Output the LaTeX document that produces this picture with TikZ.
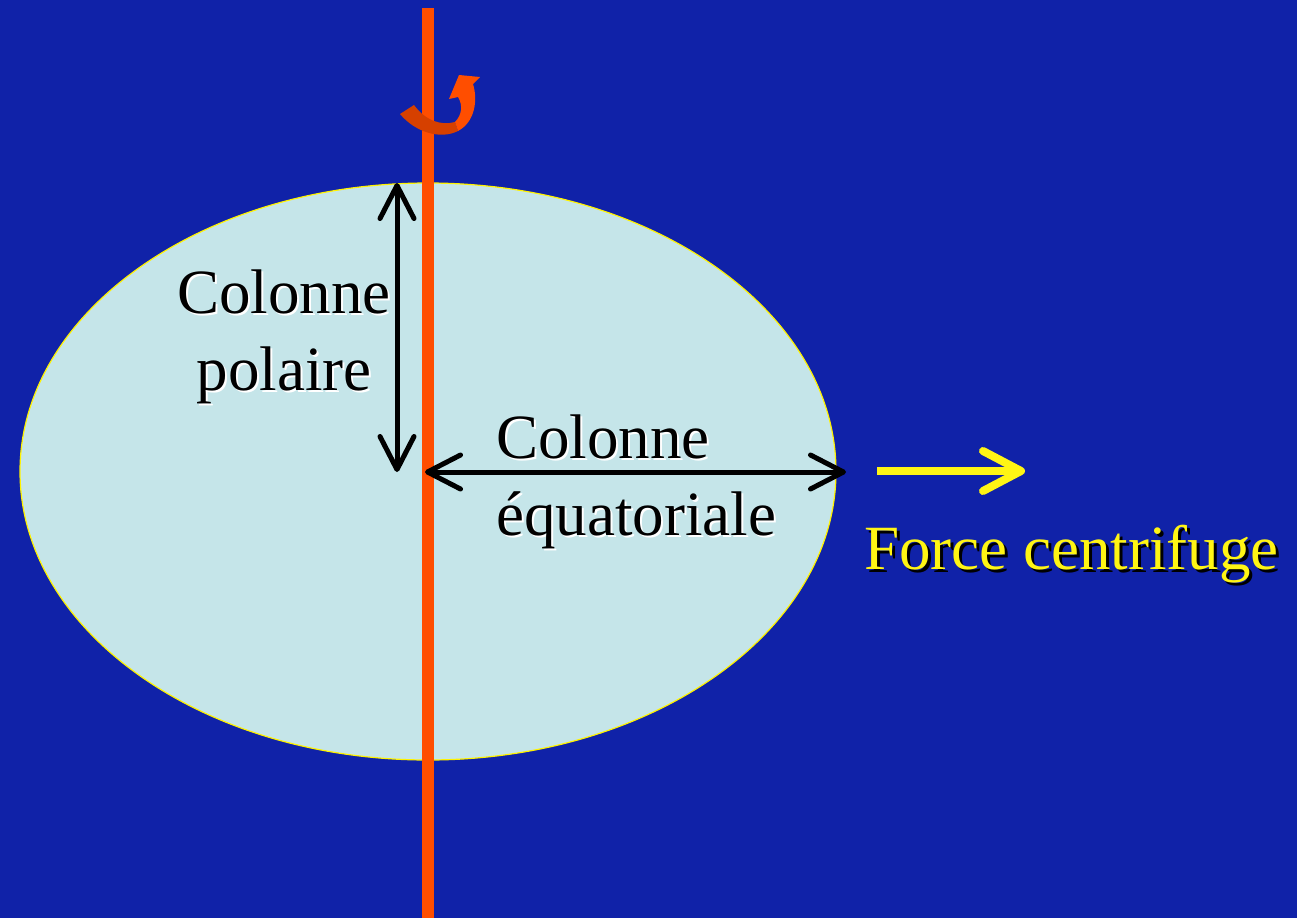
\documentclass[tikz,border=0pt]{standalone}
\usepackage{fontspec}
\setmainfont{Liberation Serif}
\usetikzlibrary{arrows.meta}
\definecolor{bgblue}{RGB}{16,34,168}
\definecolor{ellfill}{RGB}{197,229,233}
\definecolor{axisorange}{RGB}{255,78,0}
\definecolor{darkorange}{RGB}{214,64,0}
\definecolor{yel}{RGB}{255,245,20}
\tikzset{
  lbl/.style={font=\fontsize{63}{77}\selectfont, inner sep=0pt},
  dimarrow/.style={line width=5pt, {Straight Barb[length=33pt,width=34pt,line cap=round,line join=round]}-{Straight Barb[length=33pt,width=34pt,line cap=round,line join=round]}},
  forcearrow/.style={line width=8pt, yel, -{Straight Barb[length=38pt,width=40pt,line cap=round,line join=round]}}
}
\begin{document}
\begin{tikzpicture}[x=1pt,y=-1pt]
\useasboundingbox (0,0) rectangle (1297,918);
\fill[bgblue] (0,0) rectangle (1297,918);
% ellipse
\draw[yellow, line width=1.2pt, fill=ellfill] (428,471.5) ellipse [x radius=408, y radius=288.5];
% axis
\coordinate (axtop) at (428,8);
\coordinate (axbot) at (428,918);
\draw[axisorange, line width=12pt] (axtop) -- (axbot);
% rotation arrow
\fill[darkorange] (400,114) -- (414,105) .. controls (425,120) and (440,126) .. (455,122) -- (458,131) .. controls (440,140) and (415,132) .. cycle;
\fill[axisorange] (455,122) .. controls (462,115) and (463,105) .. (458,97) -- (449,99) -- (459,75) -- (480,77) -- (473,84) .. controls (478,100) and (475,122) .. (458,131) -- cycle;
% dimension arrows
\coordinate (ptop) at (397,183);
\coordinate (pbot) at (397,472);
\coordinate (eleft) at (425,472);
\coordinate (eright) at (846,472);
\draw[dimarrow] (ptop) -- (pbot);
\draw[dimarrow] (eleft) -- (eright);
% force arrow
\coordinate (fstart) at (877,471);
\coordinate (fend) at (1025,471);
\draw[forcearrow, line cap=butt] (fstart) -- (fend);
% labels
\node[lbl, white, align=center] at (286,339) {Colonne\\polaire};
\node[lbl, black, align=center] (polaire) at (284,337) {Colonne\\polaire};
\node[lbl, white, align=left, anchor=west] at (498,484) {Colonne\\équatoriale};
\node[lbl, black, align=left, anchor=west] (equat) at (496,482) {Colonne\\équatoriale};
\node[lbl, black, anchor=base west] at (867,572) {Force centrifuge};
\node[lbl, yel, anchor=base west] (force) at (864,569) {Force centrifuge};
\end{tikzpicture}
\end{document}
